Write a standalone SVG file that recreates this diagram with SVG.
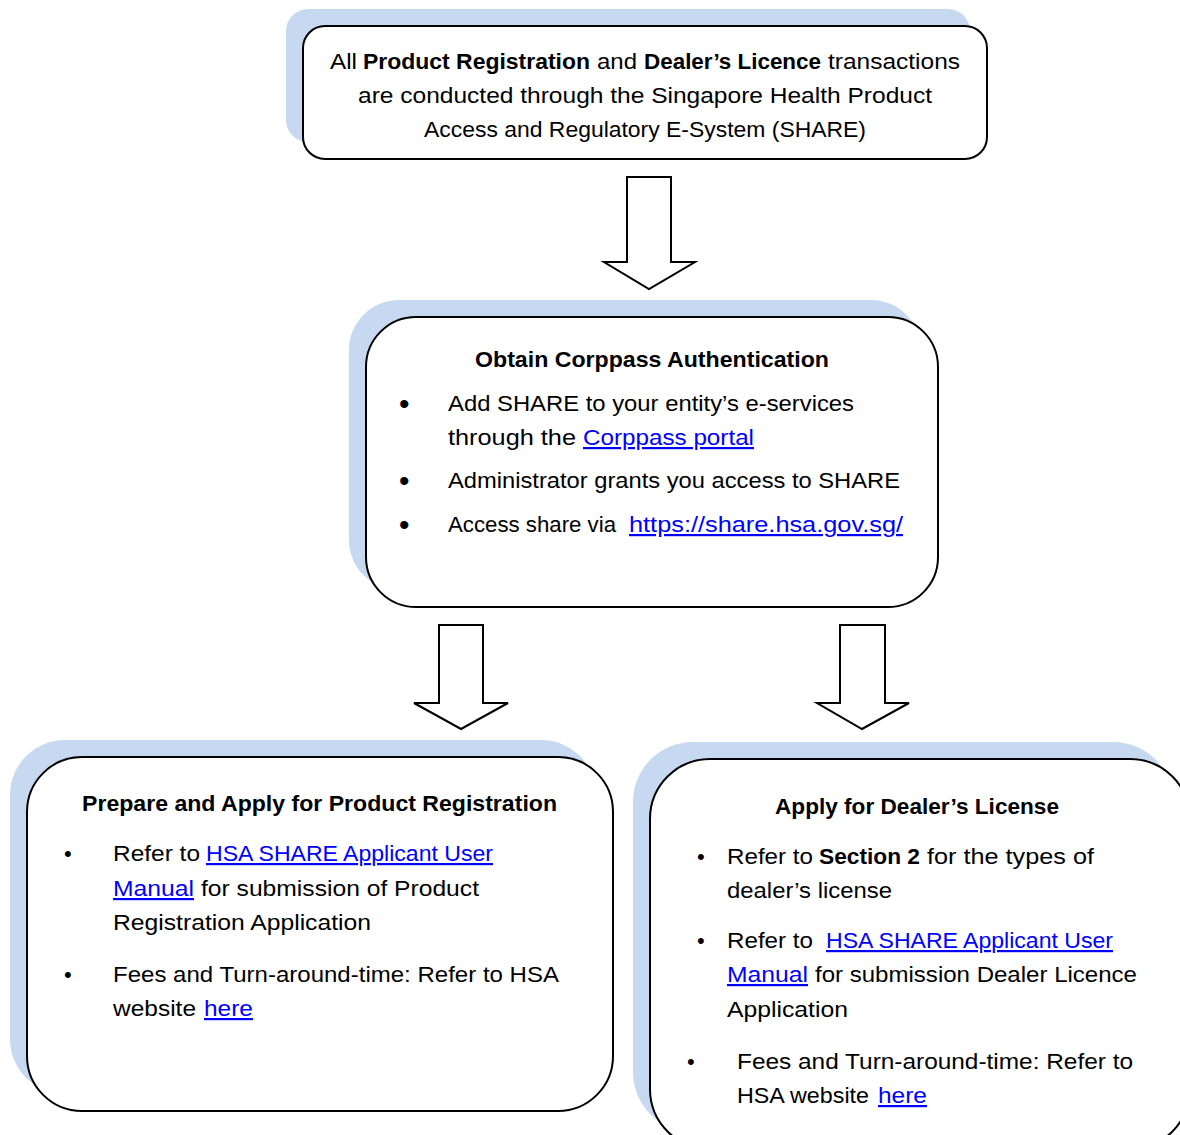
<svg xmlns="http://www.w3.org/2000/svg" width="1180" height="1135" viewBox="0 0 1180 1135">
<style>
.shadow{fill:#c6d9f1;stroke:none}
.box{fill:#ffffff;stroke:#000000;stroke-width:2}
.arrow{fill:#ffffff;stroke:#000000;stroke-width:2;stroke-linejoin:miter}
text{font-family:"Liberation Sans",Arial,sans-serif;font-size:22px;fill:#000000}
.b{font-weight:bold}
.lk{fill:#0000ff;text-decoration:underline}
.bul{font-size:30px}
.bs{font-size:22px}
</style>
<rect width="1180" height="1135" fill="#ffffff"/>

<g id="node-share">
<rect class="shadow" x="286" y="9" width="684" height="133" rx="22"/>
<rect class="box" x="303" y="26" width="684" height="133" rx="22"/>
<text x="330" y="69" textLength="27" lengthAdjust="spacingAndGlyphs">All</text>
<text class="b" x="363" y="69" textLength="227" lengthAdjust="spacingAndGlyphs">Product Registration</text>
<text x="597" y="69" textLength="40" lengthAdjust="spacingAndGlyphs">and</text>
<text class="b" x="644" y="69" textLength="177" lengthAdjust="spacingAndGlyphs">Dealer’s Licence</text>
<text x="828" y="69" textLength="132" lengthAdjust="spacingAndGlyphs">transactions</text>
<text x="358" y="103" textLength="574" lengthAdjust="spacingAndGlyphs">are conducted through the Singapore Health Product</text>
<text x="424" y="137" textLength="442" lengthAdjust="spacingAndGlyphs">Access and Regulatory E-System (SHARE)</text>
</g>

<g id="node-corppass">
<rect class="shadow" x="349" y="300" width="572" height="290" rx="50"/>
<rect class="box" x="366" y="317" width="572" height="290" rx="50"/>
<text class="b" x="475" y="367" textLength="354" lengthAdjust="spacingAndGlyphs">Obtain Corppass Authentication</text>
<text class="bul" x="399" y="414">•</text>
<text x="448" y="411" textLength="406" lengthAdjust="spacingAndGlyphs">Add SHARE to your entity’s e-services</text>
<text x="448" y="445" textLength="128" lengthAdjust="spacingAndGlyphs">through the</text>
<text class="lk" x="583" y="445" textLength="171" lengthAdjust="spacingAndGlyphs">Corppass portal</text>
<text class="bul" x="399" y="491">•</text>
<text x="448" y="488" textLength="452" lengthAdjust="spacingAndGlyphs">Administrator grants you access to SHARE</text>
<text class="bul" x="399" y="535">•</text>
<text x="448" y="532" textLength="168" lengthAdjust="spacingAndGlyphs">Access share via</text>
<text class="lk" x="629" y="532" textLength="274" lengthAdjust="spacingAndGlyphs">https://share.hsa.gov.sg/</text>
</g>

<g id="node-product">
<rect class="shadow" x="10" y="740" width="586" height="354" rx="55"/>
<rect class="box" x="27" y="757" width="586" height="354" rx="55"/>
<text class="b" x="82" y="811" textLength="475" lengthAdjust="spacingAndGlyphs">Prepare and Apply for Product Registration</text>
<text class="bs" x="64" y="861">•</text>
<text x="113" y="861" textLength="87" lengthAdjust="spacingAndGlyphs">Refer to</text>
<text class="lk" x="206" y="861" textLength="287" lengthAdjust="spacingAndGlyphs">HSA SHARE Applicant User</text>
<text class="lk" x="113" y="896" textLength="81" lengthAdjust="spacingAndGlyphs">Manual</text>
<text x="201" y="896" textLength="278" lengthAdjust="spacingAndGlyphs">for submission of Product</text>
<text x="113" y="930" textLength="258" lengthAdjust="spacingAndGlyphs">Registration Application</text>
<text class="bs" x="64" y="982">•</text>
<text x="113" y="982" textLength="446" lengthAdjust="spacingAndGlyphs">Fees and Turn-around-time: Refer to HSA</text>
<text x="113" y="1016" textLength="83" lengthAdjust="spacingAndGlyphs">website</text>
<text class="lk" x="204" y="1016" textLength="49" lengthAdjust="spacingAndGlyphs">here</text>
</g>

<g id="node-dealer">
<rect class="shadow" x="633" y="742" width="540" height="390" rx="60"/>
<rect class="box" x="650" y="759" width="540" height="390" rx="60"/>
<text class="b" x="775" y="814" textLength="284" lengthAdjust="spacingAndGlyphs">Apply for Dealer’s License</text>
<text x="697" y="864">•</text>
<text x="727" y="864" textLength="86" lengthAdjust="spacingAndGlyphs">Refer to</text>
<text class="b" x="819" y="864" textLength="101" lengthAdjust="spacingAndGlyphs">Section 2</text>
<text x="927" y="864" textLength="167" lengthAdjust="spacingAndGlyphs">for the types of</text>
<text x="727" y="898" textLength="165" lengthAdjust="spacingAndGlyphs">dealer’s license</text>
<text x="697" y="948">•</text>
<text x="727" y="948" textLength="86" lengthAdjust="spacingAndGlyphs">Refer to</text>
<text class="lk" x="826" y="948" textLength="287" lengthAdjust="spacingAndGlyphs">HSA SHARE Applicant User</text>
<text class="lk" x="727" y="982" textLength="81" lengthAdjust="spacingAndGlyphs">Manual</text>
<text x="815" y="982" textLength="322" lengthAdjust="spacingAndGlyphs">for submission Dealer Licence</text>
<text x="727" y="1017" textLength="121" lengthAdjust="spacingAndGlyphs">Application</text>
<text class="bs" x="687" y="1069">•</text>
<text x="737" y="1069" textLength="396" lengthAdjust="spacingAndGlyphs">Fees and Turn-around-time: Refer to</text>
<text x="737" y="1103" textLength="132" lengthAdjust="spacingAndGlyphs">HSA website</text>
<text class="lk" x="878" y="1103" textLength="49" lengthAdjust="spacingAndGlyphs">here</text>
</g>

<g id="connectors">
<polygon class="arrow" points="627,177 671,177 671,262 695,262 649,289 604,262 627,262"/>
<polygon class="arrow" points="439,625 483,625 483,703 508,703 461,729 414,703 439,703"/>
<polygon class="arrow" points="840,625 885,625 885,703 909,703 862,729 817,703 840,703"/>
</g>
</svg>
